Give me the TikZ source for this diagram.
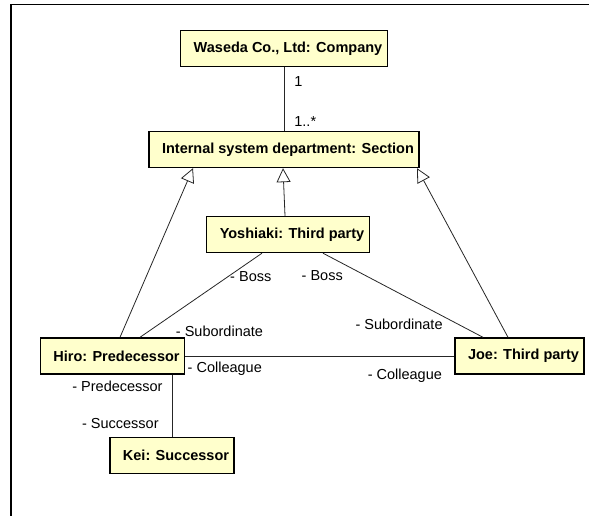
\documentclass[tikz,border=0pt]{standalone}
\usepackage{fontspec}
\setmainfont{Liberation Sans}
\usetikzlibrary{arrows.meta}
\definecolor{objfill}{RGB}{255,255,204}
\tikzset{
  obj/.style={draw, line width=1.4pt, fill=objfill, font=\fontsize{14.5}{17}\selectfont\bfseries,
    inner xsep=5pt, inner ysep=0pt, minimum height=36pt},
  assoc/.style={draw=black!85, line width=0.8pt},
  gen/.style={assoc, -{Triangle[open, length=14pt, width=14pt]}},
  role/.style={inner sep=1pt, font=\fontsize{14.5}{17}\selectfont},
}

\begin{document}
\begin{tikzpicture}[x=1pt, y=-1pt]
  \useasboundingbox (0,0) rectangle (589,516);
  % frame
  \draw[line width=1.5pt] (11,516) -- (11,4.5) -- (589,4.5);

  % objects
  \node[obj] (company) at (284,48.5) {\hspace{8pt}Waseda Co., Ltd: Company};
  \node[obj] (section) at (284,149.5) {\hspace{8pt}Internal system department: Section};
  \node[obj] (yoshiaki) at (288,234.5) {\hspace{8pt}Yoshiaki: Third party};
  \node[obj] (hiro) at (112.5,356) {\hspace{8pt}Hiro: Predecessor};
  \node[obj] (joe) at (519.5,356) {\hspace{8pt}Joe: Third party};
  \node[obj] (kei) at (172,455.5) {\hspace{8pt}Kei: Successor};

  % company - section
  \draw[assoc] (company.south) -- node[role, pos=0.23, anchor=west, xshift=9pt] {1}
    node[role, pos=0.86, anchor=west, xshift=9pt] {1..*} (company.south |- section.north);

  % generalizations
  \draw[gen] ([xshift=-3pt]yoshiaki.north) -- ([xshift=-1pt]section.south);
  \draw[gen] ([xshift=7.5pt]hiro.north) -- ([xshift=-91pt]section.south);
  \draw[gen] ([xshift=-11.5pt]joe.north) -- ([xshift=133pt]section.south);

  % boss / subordinate
  \draw[assoc] ([xshift=-26pt]yoshiaki.south) -- node[role, pos=0.28, anchor=west, xshift=1pt] {- Boss}
    node[role, pos=0.93, anchor=west, xshift=26pt] {- Subordinate} ([xshift=27.5pt]hiro.north);
  \draw[assoc] ([xshift=35pt]yoshiaki.south) -- node[role, pos=0.27, anchor=east, xshift=-22pt] {- Boss}
    node[role, pos=0.85, anchor=east, xshift=-15pt] {- Subordinate} ([xshift=-36.5pt]joe.north);

  % colleagues
  \draw[assoc] (hiro.east) -- node[role, pos=0, anchor=north west, xshift=1pt, yshift=-5pt] {- Colleague}
    node[role, pos=1, anchor=north east, xshift=-11pt, yshift=-12pt] {- Colleague} (hiro.east -| joe.west);

  % predecessor / successor
  \draw[assoc] (hiro.south -| kei.north) -- node[role, pos=0.19, anchor=east, xshift=-8pt] {- Predecessor}
    node[role, pos=0.78, anchor=east, xshift=-12pt] {- Successor} (kei.north);
\end{tikzpicture}
\end{document}
